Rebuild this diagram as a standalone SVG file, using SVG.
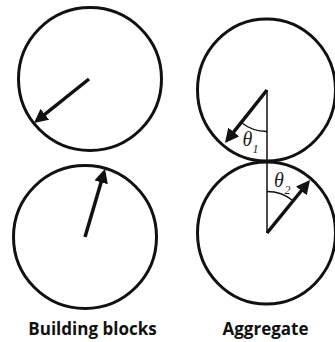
<svg xmlns="http://www.w3.org/2000/svg" width="335" height="342" viewBox="0 0 335 342">
<style>
.c{fill:none;stroke:#111;stroke-width:3}
.a{stroke:#111;stroke-width:3.5;fill:none}
.v{stroke:#111;stroke-width:1.5;fill:none}
.arc{stroke:#111;stroke-width:1.3;fill:none}
.lbl{font-family:"Open Sans","Noto Sans",sans-serif;font-weight:bold;font-size:17px;fill:#111;text-anchor:middle}
.th{font-family:"Liberation Serif",serif;font-style:italic;fill:#222}
</style>
<defs>
<marker id="ah" markerUnits="userSpaceOnUse" viewBox="0 0 14 14" markerWidth="14" markerHeight="14" refX="5" refY="7" orient="auto">
<path d="M0,0 L14,7 L0,14 z" fill="#111"/>
</marker>
</defs>
<g id="block-top">
<circle class="c" cx="90" cy="79" r="71.5"/>
</g>
<g id="block-bottom">
<circle class="c" cx="85" cy="237" r="71.5"/>
</g>
<g id="aggregate-top">
<ellipse class="c" cx="266.5" cy="90" rx="69" ry="71"/>
</g>
<g id="aggregate-bottom">
<ellipse class="c" cx="266.5" cy="233" rx="69" ry="71"/>
</g>
<g id="connectors">
<line class="a" x1="89" y1="79" x2="41" y2="117.4" marker-end="url(#ah)"/>
<line class="a" x1="85" y1="237" x2="102.5" y2="177.5" marker-end="url(#ah)"/>
<line class="v" x1="267" y1="90" x2="267" y2="233"/>
<line class="a" x1="267" y1="90" x2="230.6" y2="135.9" marker-end="url(#ah)"/>
<line class="a" x1="267" y1="233" x2="304.4" y2="187" marker-end="url(#ah)"/>
<path class="arc" d="M267,131.5 A41.5,41.5 0 0 1 241.2,122.5"/>
<path class="arc" d="M267,191.5 A41.5,41.5 0 0 1 293.1,200.7"/>
</g>
<g id="theta1">
<text class="th" x="242.5" y="146" font-size="20">θ</text>
<text class="th" x="252.5" y="153" font-size="12">1</text>
</g>
<g id="theta2">
<text class="th" x="274" y="187" font-size="20">θ</text>
<text class="th" x="284.5" y="193.5" font-size="12">2</text>
</g>
<g id="labels">
<text class="lbl" x="92.5" y="335">Building blocks</text>
<text class="lbl" x="265.5" y="335">Aggregate</text>
</g>
</svg>
